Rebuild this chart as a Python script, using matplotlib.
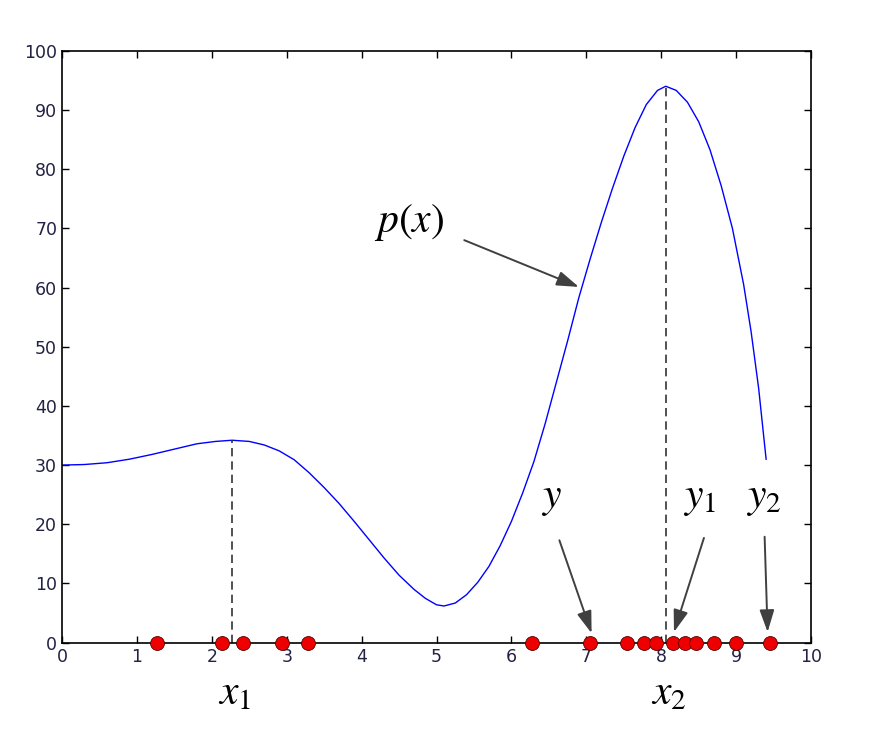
import matplotlib
matplotlib.use("Agg")
import matplotlib.pyplot as plt

plt.rcParams['mathtext.fontset'] = 'stix'

# curve p(x)
curve_x = [0.0, 0.3, 0.6, 0.9, 1.2, 1.5, 1.8, 2.05, 2.27, 2.5, 2.7, 2.9, 3.1, 3.3,
           3.5, 3.7, 3.9, 4.1, 4.3, 4.5, 4.7, 4.85, 5.0, 5.1, 5.25, 5.4, 5.55, 5.7,
           5.85, 6.0, 6.15, 6.3, 6.45, 6.6, 6.75, 6.9, 7.05, 7.2, 7.35, 7.5, 7.65,
           7.8, 7.95, 8.06, 8.2, 8.35, 8.5, 8.65, 8.8, 8.95, 9.1, 9.2, 9.3, 9.4]
curve_y = [30.0, 30.1, 30.4, 31.0, 31.8, 32.7, 33.6, 34.0, 34.2, 34.0, 33.4, 32.4,
           30.9, 28.7, 26.2, 23.5, 20.5, 17.4, 14.3, 11.4, 9.0, 7.5, 6.4, 6.2, 6.7,
           8.1, 10.2, 12.9, 16.4, 20.5, 25.3, 30.6, 37.0, 44.0, 51.0, 58.3, 64.8,
           71.0, 76.8, 82.2, 87.0, 90.9, 93.3, 94.0, 93.3, 91.3, 88.0, 83.3, 77.2,
           70.0, 60.5, 52.5, 43.0, 31.0]

# samples on the x axis
samples_x = [1.27, 2.14, 2.41, 2.94, 3.28, 6.28, 7.05, 7.54, 7.77, 7.93, 8.16,
             8.32, 8.47, 8.71, 9.0, 9.45]

# modes
mode_x = [2.27, 8.06]
mode_y = [34.2, 94.0]

xticks = [0, 1, 2, 3, 4, 5, 6, 7, 8, 9, 10]
yticks = [0, 10, 20, 30, 40, 50, 60, 70, 80, 90, 100]

# labels
labels = [r'$p(x)$', r'$y$', r'$y_{\rm 1}$', r'$y_{\rm 2}$']
label_pos = [(4.64, 71.0), (6.53, 24.6), (8.51, 24.6), (9.37, 24.6)]
arrow_from = [(5.37, 68.0), (6.64, 17.3), (8.57, 17.7), (9.38, 17.9)]
arrow_to = [(6.9, 60.1), (7.07, 1.6), (8.17, 1.8), (9.42, 1.8)]

fig = plt.figure(figsize=(8.9, 7.3), dpi=100)
ax = fig.add_axes([0.0697, 0.1196, 0.8416, 0.8109])

ax.plot(curve_x, curve_y, color='blue', lw=1.0)
for mx, my in zip(mode_x, mode_y):
    ax.plot([mx, mx], [0, my], ls='--', color='#333333', lw=1.2, dashes=(5, 3))
ax.plot(samples_x, [0] * len(samples_x), 'o', color='#ee0000', mec='#550000',
        mew=0.6, ms=10, clip_on=False, zorder=5)

ax.set_xlim(0, 10)
ax.set_ylim(0, 100)
ax.set_xticks(xticks)
ax.set_yticks(yticks)
ax.tick_params(direction='in', top=True, right=True, labelsize=12.5,
               labelcolor='#222244', length=5, width=1)
for s in ax.spines.values():
    s.set_linewidth(1.2)

for lab, (tx, ty) in zip(labels, label_pos):
    ax.text(tx, ty, lab, fontsize=30, ha='center', va='center')
for (x0, y0), (x1, y1) in zip(arrow_from, arrow_to):
    ax.annotate('', xy=(x1, y1), xytext=(x0, y0),
                arrowprops=dict(arrowstyle='-|>,head_length=0.9,head_width=0.3',
                                mutation_scale=15, color='#404040', lw=1.4,
                                shrinkA=0, shrinkB=0))

ax.text(2.3, -8.3, r'$x_{\rm 1}$', fontsize=30, ha='center', va='center', clip_on=False)
ax.text(8.1, -8.3, r'$x_{\rm 2}$', fontsize=30, ha='center', va='center', clip_on=False)

fig.savefig('out.png', dpi=100)
